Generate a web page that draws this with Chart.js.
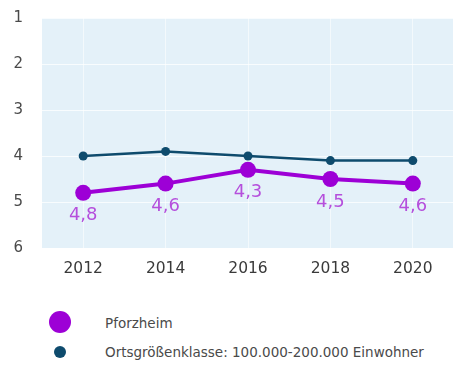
<!DOCTYPE html>
<html>
<head>
<meta charset="utf-8">
<script src="https://cdn.jsdelivr.net/npm/chart.js@4/dist/chart.umd.min.js"></script>
<style>
  html, body { margin: 0; padding: 0; background: #ffffff; }
  body { width: 453px; height: 374px; position: relative; overflow: hidden; font-family: "DejaVu Sans", sans-serif; }
  #wrap { position: absolute; left: 0; top: -10px; width: 462px; height: 292px; }
  .leg { position: absolute; font-size: 13.5px; color: #4a4a4a; }
  .dot { position: absolute; border-radius: 50%; }
  .txt { position: absolute; left: 105px; white-space: nowrap; line-height: 16px; }
</style>
</head>
<body>
<div id="wrap"><canvas id="c" width="462" height="292"></canvas></div>
<div class="dot" style="left:49px;top:311px;width:22px;height:22px;background:#9d00d6;"></div>
<div class="leg txt" style="top:315px;">Pforzheim</div>
<div class="dot" style="left:54px;top:346px;width:12px;height:12px;background:#0e4b6d;"></div>
<div class="leg txt" style="top:344px;">Ortsgrößenklasse: 100.000-200.000 Einwohner</div>
<script>
const years = ['2012', '2014', '2016', '2018', '2020'];
const pforzheim = [4.8, 4.6, 4.3, 4.5, 4.6];
const ortsklasse = [4.0, 3.9, 4.0, 4.1, 4.1];
const yTicks = [1, 2, 3, 4, 5, 6];

const purple = '#9d00d6';
const navy = '#0e4b6d';
const FONT = '"DejaVu Sans", sans-serif';

// light blue fill behind the plot area
const plotBg = {
  id: 'plotBg',
  beforeDraw(chart) {
    const { ctx, chartArea: a } = chart;
    ctx.save();
    ctx.fillStyle = '#e4f1f9';
    ctx.fillRect(a.left, a.top, a.right - a.left, a.bottom - a.top);
    ctx.restore();
  }
};

// value labels under the Pforzheim points
const valueLabels = {
  id: 'valueLabels',
  afterDatasetsDraw(chart) {
    const { ctx } = chart;
    const meta = chart.getDatasetMeta(0);
    ctx.save();
    ctx.fillStyle = '#b54fdc';
    ctx.font = '18px ' + FONT;
    ctx.textAlign = 'center';
    ctx.textBaseline = 'middle';
    meta.data.forEach((pt, i) => {
      const v = pforzheim[i].toFixed(1).replace('.', ',');
      ctx.fillText(v, pt.x, pt.y + 23);
    });
    ctx.restore();
  }
};

new Chart(document.getElementById('c'), {
  type: 'line',
  data: {
    labels: years,
    datasets: [
      {
        label: 'Pforzheim',
        data: pforzheim,
        borderColor: purple,
        backgroundColor: purple,
        borderWidth: 4,
        pointRadius: 8,
        pointBorderWidth: 0,
        tension: 0,
        order: 1
      },
      {
        label: 'Ortsgrößenklasse: 100.000-200.000 Einwohner',
        data: ortsklasse,
        borderColor: navy,
        backgroundColor: navy,
        borderWidth: 2.5,
        pointRadius: 4.5,
        pointBorderWidth: 0,
        tension: 0,
        order: 2
      }
    ]
  },
  options: {
    responsive: false,
    animation: false,
    layout: { padding: { top: 0, right: 0, bottom: 0, left: 0 } },
    plugins: {
      legend: { display: false },
      tooltip: { enabled: false }
    },
    scales: {
      x: {
        offset: true,
        afterFit(scale) { scale.height = 34; },
        grid: { color: 'rgba(255,255,255,0.55)', drawTicks: false, offset: false },
        border: { display: false },
        ticks: {
          color: '#3a3a3a',
          padding: 12,
          font: { size: 15.5, family: FONT }
        }
      },
      y: {
        reverse: true,
        min: 1,
        max: 6,
        afterBuildTicks(scale) { scale.ticks = yTicks.map(v => ({ value: v })); },
        afterFit(scale) { scale.width = 42; },
        grid: { color: 'rgba(255,255,255,0.75)', drawTicks: false },
        border: { display: false },
        ticks: {
          color: '#4a4a4a',
          padding: 19,
          font: { size: 15, family: FONT }
        }
      }
    }
  },
  plugins: [plotBg, valueLabels]
});
</script>
</body>
</html>
